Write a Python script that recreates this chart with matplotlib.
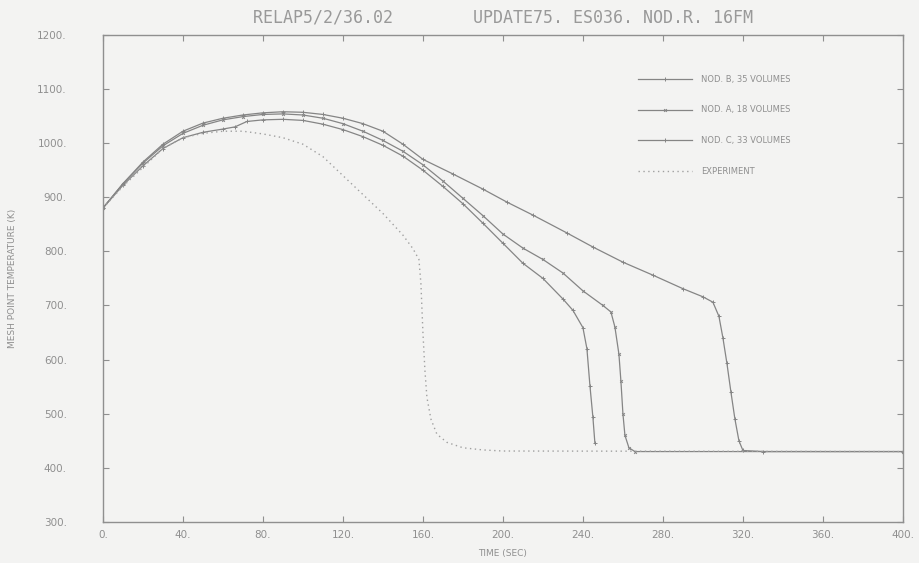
import numpy as np
import matplotlib.pyplot as plt
from matplotlib.ticker import FuncFormatter

# nodalization B, 35 volumes (last to quench)
time_b = [0, 10, 20, 30, 40, 50, 60, 70, 80, 90, 100, 110, 120, 130, 140, 150, 160,
          175, 190, 202, 215, 232, 245, 260, 275, 290, 300, 305, 308, 310, 312, 314,
          316, 318, 320, 330, 400]
temp_b = [880, 925, 965, 998, 1022, 1037, 1046, 1052, 1056, 1058, 1057, 1053, 1046,
          1036, 1022, 998, 970, 943, 915, 891, 867, 834, 808, 780, 756, 731, 716, 706,
          680, 640, 593, 540, 490, 450, 432, 430, 430]

# nodalization A, 18 volumes
time_a = [0, 10, 20, 30, 40, 50, 60, 70, 80, 90, 100, 110, 120, 130, 140, 150, 160,
          170, 180, 190, 200, 210, 220, 230, 240, 250, 254, 256, 258, 259, 260, 261,
          263, 266, 400]
temp_a = [880, 925, 963, 995, 1018, 1033, 1043, 1049, 1053, 1054, 1052, 1046, 1036,
          1022, 1005, 985, 960, 930, 898, 866, 832, 806, 785, 760, 727, 700, 688, 660,
          610, 560, 500, 460, 437, 430, 430]

# nodalization C, 33 volumes
time_c = [0, 10, 20, 30, 40, 50, 60, 66, 72, 80, 90, 100, 110, 120, 130, 140, 150,
          160, 170, 180, 190, 200, 210, 220, 230, 235, 240, 242, 243.5, 245, 246]
temp_c = [880, 922, 958, 990, 1010, 1020, 1026, 1030, 1040, 1043, 1044, 1042, 1035,
          1025, 1012, 996, 976, 950, 920, 888, 852, 815, 778, 750, 712, 691, 659, 620,
          552, 493, 445]

# measured cladding temperature
time_exp = [0, 10, 20, 30, 40, 50, 60, 70, 80, 90, 100, 110, 120, 130, 140, 150, 155,
            158, 159, 160, 161, 162, 164, 167, 172, 180, 190, 200, 400]
temp_exp = [880, 920, 955, 990, 1010, 1018, 1022, 1022, 1017, 1010, 998, 975, 940,
            905, 870, 830, 805, 785, 740, 650, 580, 530, 490, 462, 447, 437, 433, 431,
            430]

labels = ['NOD. B, 35 VOLUMES', 'NOD. A, 18 VOLUMES', 'NOD. C, 33 VOLUMES', 'EXPERIMENT']

ink = '#858585'
txt = '#8f8f8f'
bg = '#f3f3f2'

fig = plt.figure(figsize=(9.19, 5.63), dpi=100, facecolor=bg)
ax = fig.add_axes([0.112, 0.073, 0.8705, 0.865], facecolor=bg)

ax.plot(time_b, temp_b, color=ink, lw=0.9, marker='+', ms=2.5, mew=0.7, label=labels[0])
ax.plot(time_a, temp_a, color=ink, lw=0.9, marker='x', ms=2.0, mew=0.7, label=labels[1])
ax.plot(time_c, temp_c, color=ink, lw=0.9, marker='+', ms=2.2, mew=0.7, label=labels[2])
ax.plot(time_exp, temp_exp, color='#a0a0a0', lw=1.0, ls=(0, (1, 2.5)), label=labels[3])

ax.set_xlim(0, 400)
ax.set_ylim(300, 1200)
ax.set_xticks(np.arange(0, 401, 40))
ax.set_yticks(np.arange(300, 1201, 100))
fmt = FuncFormatter(lambda v, p: f'{int(v)}.')
ax.xaxis.set_major_formatter(fmt)
ax.yaxis.set_major_formatter(fmt)

for s in ax.spines.values():
    s.set_color('#8f8f8f')
    s.set_linewidth(1.0)
ax.tick_params(direction='in', length=4, color='#8f8f8f', top=True, right=True,
               labelcolor=txt, labelsize=7.5)
ax.tick_params(axis='y', pad=26)
ax.tick_params(axis='x', pad=6)

ax.set_title('RELAP5/2/36.02        UPDATE75. ES036. NOD.R. 16FM',
             family='DejaVu Sans Mono', fontsize=12, color='#999999', pad=9)
ax.set_xlabel('TIME (SEC)', fontsize=6.5, color=txt, labelpad=6)
ax.set_ylabel('MESH POINT TEMPERATURE (K)', fontsize=6.5, color=txt)
ax.yaxis.set_label_coords(-0.108, 0.5)

leg = ax.legend(loc='upper left', bbox_to_anchor=(0.665, 0.925), frameon=False,
                fontsize=6, handlelength=6.5, handletextpad=1.0, labelspacing=2.6,
                borderaxespad=0)
for t in leg.get_texts():
    t.set_color(txt)

fig.savefig('out.png', dpi=100, facecolor=bg)
